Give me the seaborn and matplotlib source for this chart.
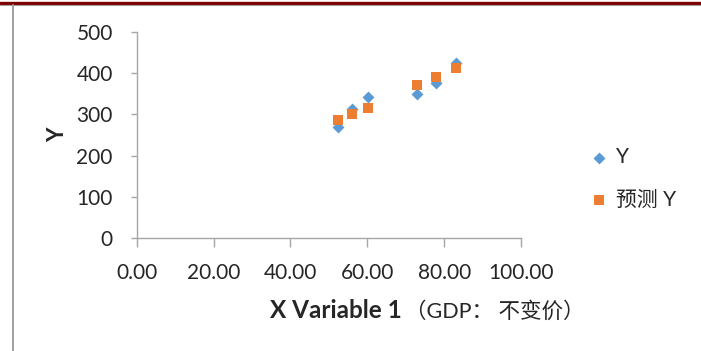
import matplotlib
matplotlib.use('Agg')
import matplotlib.pyplot as plt
from matplotlib.lines import Line2D
import seaborn as sns
import pandas as pd

# values
gdp = [52.4, 56.1, 60.2, 73.0, 77.9, 83.1]
y_actual = [269, 312, 342, 350, 375, 425]
y_pred = [286, 301, 316, 371, 390, 412]
x_ticks = [0, 20, 40, 60, 80, 100]
y_ticks = [0, 100, 200, 300, 400, 500]

df = pd.DataFrame({'gdp': gdp, 'Y': y_actual, 'pred': y_pred})

sns.set_style('white')
plt.rcParams['font.family'] = ['Lato', 'Noto Sans CJK SC', 'DejaVu Sans']

W, H = 701, 351
fig = plt.figure(figsize=(W / 100, H / 100), dpi=100)
ax = fig.add_axes([136.7 / W, 1 - 238.3 / H, (521 - 136.7) / W, (238.3 - 31.7) / H])

sns.scatterplot(data=df, x='gdp', y='Y', marker='D', s=37, color='#5B9BD5',
                linewidth=0, ax=ax, label='Y', clip_on=False)
sns.scatterplot(data=df, x='gdp', y='pred', marker='s', s=62, color='#ED7D31',
                linewidth=0, ax=ax, label='预测 Y', clip_on=False)

ax.set_xlim(0, 100)
ax.set_ylim(0, 500)
ax.set_xticks(x_ticks)
ax.set_xticklabels([f'{v:.2f}' for v in x_ticks])
ax.set_yticks(y_ticks)
ax.set_yticklabels([str(v) for v in y_ticks])

for side in ['top', 'right']:
    ax.spines[side].set_visible(False)
for side in ['left', 'bottom']:
    ax.spines[side].set_color('#a6a6a6')
    ax.spines[side].set_linewidth(1.0)

ax.tick_params(axis='y', direction='out', length=4.3, width=1.0, color='#a6a6a6',
               labelsize=15, pad=13, left=True)
ax.tick_params(axis='x', direction='out', length=6.5, width=1.0, color='#a6a6a6',
               labelsize=15, pad=11, bottom=True)
ax.set_xlabel('')
ax.set_ylabel('')

# axis titles (bold latin part + regular CJK part, as in the original)
fig.text(58 / W, 1 - 135 / H, 'Y', rotation=90, fontsize=16, fontweight='bold',
         ha='center', va='center')
fig.text(270 / W, 1 - 311 / H, 'X Variable 1', fontsize=17.5, fontweight='bold',
         ha='left', va='center')
fig.text(405 / W, 1 - 311 / H, '（GDP： 不变价）', fontsize=15.5,
         ha='left', va='center')

leg = ax.legend(loc='center left', bbox_to_anchor=(589 / W, 1 - 178.5 / H),
                bbox_transform=fig.transFigure, frameon=False, fontsize=15,
                handlelength=1.0, handletextpad=0.3, labelspacing=1.1,
                borderaxespad=0, borderpad=0)

# frame decorations from the original screenshot
fig.add_artist(Line2D([0, 1], [1 - 2.5 / H, 1 - 2.5 / H], color='#7f0000',
                      linewidth=2.4, transform=fig.transFigure))
fig.add_artist(Line2D([0, 1], [1 - 4.5 / H, 1 - 4.5 / H], color='#a0a0a0',
                      linewidth=0.8, transform=fig.transFigure))
fig.add_artist(Line2D([12.5 / W, 12.5 / W], [0, 1 - 4.5 / H], color='#a0a0a0',
                      linewidth=1.4, transform=fig.transFigure))

plt.savefig('out.png', dpi=100)
